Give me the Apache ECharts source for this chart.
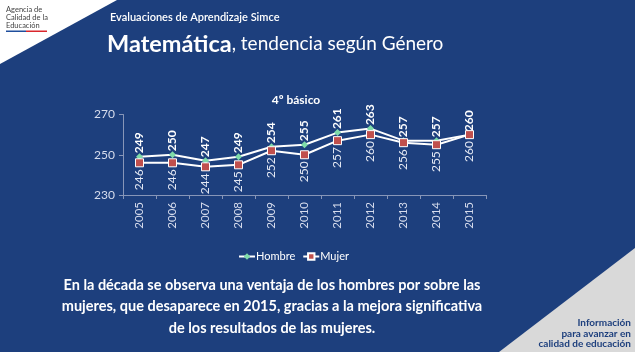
<!DOCTYPE html>
<html><head><meta charset="utf-8">
<script src="https://cdn.jsdelivr.net/npm/echarts@6/dist/echarts.min.js"></script>
<style>html,body{margin:0;padding:0;background:#1d3f7d;}#c{width:635px;height:352px;}</style>
</head><body><div id="c"></div>
<script>
const years = ['2005','2006','2007','2008','2009','2010','2011','2012','2013','2014','2015'];
const hombre = [249,250,247,249,254,255,261,263,257,257,260];
const mujer = [246,246,244,245,252,250,257,260,256,255,260];
const yTicks = {min:230, max:270, interval:20};
const FONT = 'Lato, "Open Sans", sans-serif';
const bodyLines = ['En la década se observa una ventaja de los hombres por sobre las',
  'mujeres, que desaparece en 2015, gracias a la mejora significativa',
  'de los resultados de las mujeres.'];
const cornerLines = ['Información','para avanzar en','calidad de educación'];
const graphics = [
  {type:'polygon', shape:{points:[[0,0],[117,0],[0,64]]}, style:{fill:'#ffffff'}, z:-1},
  {type:'polygon', shape:{points:[[635,248],[635,352],[499,352]]}, style:{fill:'#d9d9d9'}, z:-1},
  {type:'text', x:6, y:6, style:{text:'Agencia de\nCalidad de la\nEducación', fill:'#444444', font:'7.5px '+FONT, lineHeight:8}},
  {type:'rect', shape:{x:6, y:30.5, width:20, height:1.5}, style:{fill:'#1f4e9c'}},
  {type:'rect', shape:{x:26, y:30.5, width:21, height:1.5}, style:{fill:'#d9262c'}},
  {type:'text', x:110, y:17, style:{text:'Evaluaciones de Aprendizaje Simce', fill:'#ffffff', font:'600 11px '+FONT, verticalAlign:'middle'}},
  {type:'text', x:107, y:44, style:{rich:{a:{fontSize:23.5, fontWeight:'bold', fill:'#ffffff', fontFamily:FONT},
     b:{fontSize:19, fill:'#ffffff', fontFamily:FONT}}, text:'{a|Matemática}{b|, tendencia según Género}', verticalAlign:'middle'}}
];
bodyLines.forEach((t,i)=>graphics.push({type:'text', x:272, y:285+i*21.5,
  style:{text:t, fill:'#ffffff', font:'bold 14.5px '+FONT, align:'center', verticalAlign:'middle'}}));
cornerLines.forEach((t,i)=>graphics.push({type:'text', x:631, y:323+i*10.5,
  style:{text:t, fill:'#1d3f7d', font:'bold 10px '+FONT, align:'right', verticalAlign:'middle'}}));

const chart = echarts.init(document.getElementById('c'));
chart.setOption({
  backgroundColor:'#1d3f7d',
  animation:false,
  title:{text:'4º básico', left:291, top:89, textAlign:'center',
    textStyle:{color:'#ffffff', fontSize:12, fontWeight:'bold', fontFamily:FONT}},
  legend:{top:246, left:233, itemWidth:16, itemHeight:8, itemGap:7,
    textStyle:{color:'#ffffff', fontSize:11, fontFamily:FONT, padding:[0,0,0,-4]},
    data:['Hombre','Mujer']},
  grid:{left:123, right:149, top:114.5, bottom:157},
  xAxis:{type:'category', data:years, boundaryGap:true,
    axisLine:{lineStyle:{color:'#8796b8'}},
    axisTick:{show:true, lineStyle:{color:'#8796b8'}, length:4},
    axisLabel:{rotate:90, color:'#d6dced', fontSize:11.5, fontFamily:FONT, margin:7}},
  yAxis:{type:'value', min:yTicks.min, max:yTicks.max, interval:yTicks.interval,
    splitLine:{show:false},
    axisLine:{show:true, lineStyle:{color:'#8796b8'}},
    axisTick:{show:true, length:4, lineStyle:{color:'#8796b8'}},
    axisLabel:{color:'#d6dced', fontSize:12, fontFamily:FONT, margin:8}},
  series:[
    {name:'Hombre', type:'line', data:hombre, symbol:'diamond', symbolSize:7,
      lineStyle:{color:'#ffffff', width:2},
      itemStyle:{color:'#7fdcaa', borderColor:'#7fdcaa', borderWidth:0},
      label:{show:true, position:'top', distance:0, rotate:90, align:'left', verticalAlign:'middle',
        color:'#ffffff', fontSize:12, fontWeight:'bold', fontFamily:FONT}},
    {name:'Mujer', type:'line', data:mujer, symbol:'rect', symbolSize:8,
      lineStyle:{color:'#ffffff', width:2},
      itemStyle:{color:'#c0504d', borderColor:'#ffffff', borderWidth:1},
      label:{show:true, position:'bottom', distance:2, rotate:90, align:'right', verticalAlign:'middle',
        color:'#e4e9f4', fontSize:12, fontFamily:FONT}}
  ],
  graphic:graphics
});
</script></body></html>
